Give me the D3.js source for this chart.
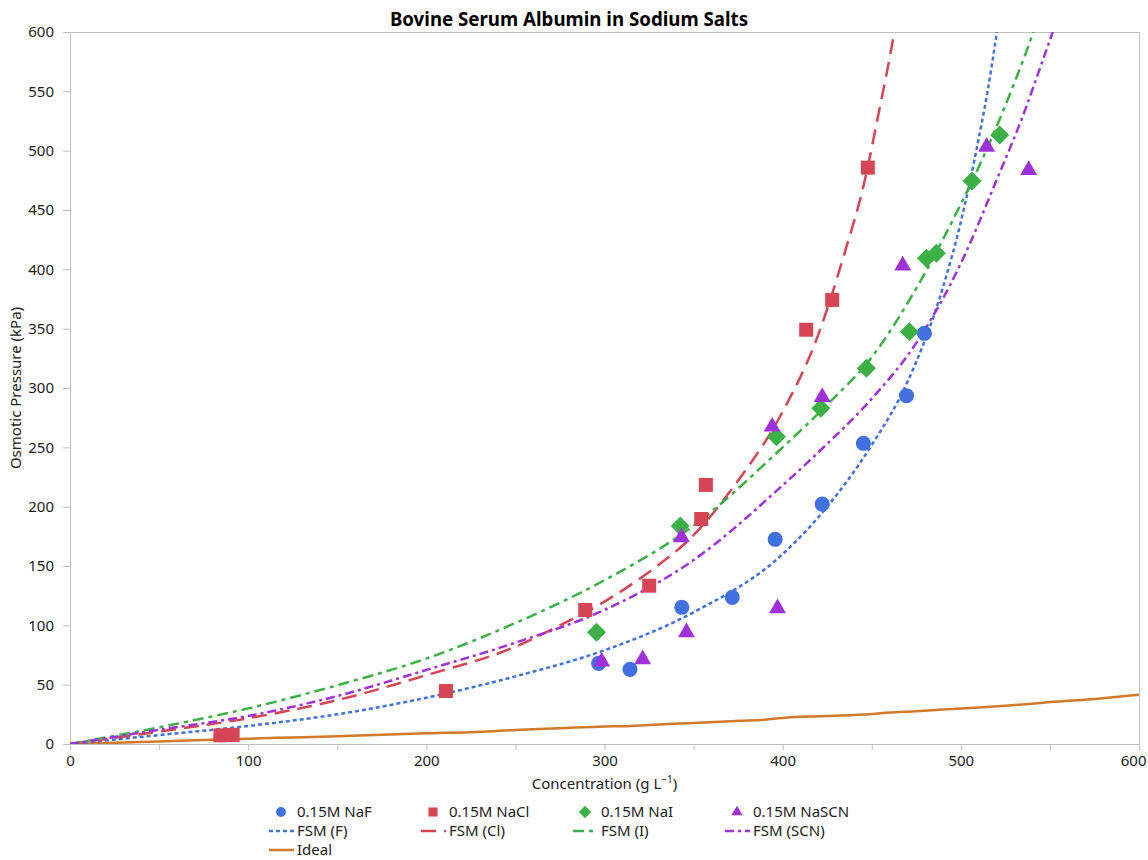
<!DOCTYPE html>
<html>
<head>
<meta charset="utf-8">
<script src="https://cdn.jsdelivr.net/npm/d3@7"></script>
<style>
  body { margin: 0; background: #fff; font-family: "Noto Sans", sans-serif; }
  .axis text { font-size: 15px; fill: #222; font-family: "Noto Sans", sans-serif; }
  .axis line, .axis path { stroke: #bfbfbf; }
  .legend text { font-size: 15px; fill: #222; }
</style>
</head>
<body>
<div id="chart"></div>
<script>
// measured points (g/L, kPa)
const nafConc = [296.7, 314.3, 343.4, 371.7, 395.8, 422.2, 445.3, 469.5, 479.6];
const nafKpa  = [68, 62.9, 115.2, 123.6, 172.5, 202.2, 253.4, 293.5, 346.1];

const naclConc = [84.4, 91.3, 211, 289.2, 325.1, 354.3, 356.9, 413.2, 427.8, 447.8];
const naclKpa  = [7.3, 7.6, 44.7, 112.9, 133.4, 189.6, 218.3, 349.1, 374.2, 485.7];

const naiConc = [295.5, 342.5, 396.5, 421.4, 447, 471.1, 480.7, 486.3, 506.3, 521.8];
const naiKpa  = [94.1, 183.7, 259, 282.9, 316.6, 347.5, 409.3, 413.5, 474.4, 513.2];

const nascnConc = [298.4, 321.4, 343.2, 346, 394.1, 397.1, 422.2, 467.4, 514.5, 538.1];
const nascnKpa  = [69.4, 71.4, 174.2, 94.1, 267.4, 114.3, 292.4, 403.1, 503.3, 483.7];

// model curves
const fsmFConc = [0, 50, 100, 150, 200, 250, 300, 350, 400, 425, 450, 470, 490, 500, 510, 515, 520, 522];
const fsmFKpa  = [0, 7.5, 15.2, 25, 39, 57, 79, 111, 160, 200, 252, 305, 385, 440, 510, 550, 598, 620];

const fsmClConc = [0, 50, 100, 150, 200, 250, 275, 300, 325, 350, 375, 400, 420, 435, 445, 455, 460, 465];
const fsmClKpa  = [0, 10.5, 21.7, 37, 58, 82, 100, 120, 145, 176, 222, 280, 345, 415, 468, 540, 578, 620];

const fsmIConc = [0, 50, 100, 150, 200, 250, 300, 350, 400, 425, 450, 475, 500, 510, 520, 530, 540, 545];
const fsmIKpa  = [0, 14, 30, 49.5, 72, 102, 138, 184, 250, 286, 326, 384, 455, 486, 520, 557, 597, 620];

const fsmSCNConc = [0, 50, 100, 150, 200, 250, 300, 350, 400, 425, 450, 475, 500, 520, 535, 545, 552, 556];
const fsmSCNKpa  = [0, 12, 23.6, 40.4, 62.4, 85.4, 113, 155, 218, 253, 291, 338, 405, 475, 530, 572, 602, 620];

const idealConc = [0, 25, 50, 75, 100, 125, 150, 175, 200, 225, 250, 275, 300, 310, 325, 350, 375, 390, 400, 425, 450, 460, 475, 500, 510, 525, 540, 550, 575, 600];
const idealKpa  = [0, 1, 2.2, 3.3, 4.5, 5.5, 6.5, 7.8, 9, 10, 11.8, 13.3, 14.8, 15, 16, 17.8, 19.5, 20.5, 22, 23.5, 25.2, 26.5, 27.6, 30, 30.8, 32.2, 34, 35.3, 38, 41.5];

const xTicks = [0, 50, 100, 150, 200, 250, 300, 350, 400, 450, 500, 550, 600];
const yTicks = [0, 50, 100, 150, 200, 250, 300, 350, 400, 450, 500, 550, 600];

const colors = { F: "#4170e0", Cl: "#d64553", I: "#3bb044", SCN: "#a030dc", ideal: "#d27a2a" };

// canvas
const margin = {top: 32, right: 9, bottom: 116, left: 70},
      width = 1148 - margin.left - margin.right,
      height = 860 - margin.top - margin.bottom;

const svgRoot = d3.select("#chart").append("svg")
    .attr("width", 1148)
    .attr("height", 860);

const svg = svgRoot.append("g")
    .attr("transform", `translate(${margin.left},${margin.top})`);

const x = d3.scaleLinear().domain([0, 600]).range([0, width]);
const y = d3.scaleLinear().domain([0, 600]).range([height, 0]);

// title
svgRoot.append("text")
  .attr("x", 569).attr("y", 26)
  .attr("text-anchor", "middle")
  .style("font-size", "18.7px").style("font-weight", "bold").style("fill", "#000")
  .text("Bovine Serum Albumin in Sodium Salts");

// axes
const xAxis = svg.append("g").attr("class", "axis")
  .attr("transform", `translate(0,${height})`)
  .call(d3.axisBottom(x).tickValues(xTicks).tickSize(6).tickSizeOuter(0).tickPadding(5)
    .tickFormat(d => d % 100 === 0 ? d : ""));
// last label kept inside the page
xAxis.selectAll(".tick text").filter(d => d === 600)
  .attr("text-anchor", "end").attr("dx", "7");

svg.append("g").attr("class", "axis")
  .call(d3.axisLeft(y).tickValues(yTicks).tickSize(7).tickSizeOuter(0).tickPadding(9));

// frame top + right
svg.append("line").attr("x1", 0).attr("x2", width + 0.5).attr("y1", 0.5).attr("y2", 0.5).attr("stroke", "#bfbfbf");
svg.append("line").attr("x1", width + 0.5).attr("x2", width + 0.5).attr("y1", 0).attr("y2", height).attr("stroke", "#bfbfbf");

// axis titles
svgRoot.append("text")
  .attr("x", margin.left + width / 2).attr("y", 789)
  .attr("text-anchor", "middle").style("font-size", "15px").style("fill", "#222")
  .html("Concentration (g L<tspan dy='-6' font-size='10px'>−1</tspan><tspan dy='6'>)</tspan>");

svgRoot.append("text")
  .attr("transform", `translate(21,${margin.top + height / 2}) rotate(-90)`)
  .attr("text-anchor", "middle").style("font-size", "15px").style("fill", "#222")
  .text("Osmotic Pressure (kPa)");

// clip
svgRoot.append("clipPath").attr("id", "plotclip")
  .append("rect").attr("x", 0).attr("y", 0).attr("width", width).attr("height", height);

const plot = svg.append("g").attr("clip-path", "url(#plotclip)");

const line = d3.line().x(d => x(d[0])).y(d => y(d[1])).curve(d3.curveMonotoneX);
const zip = (a, b) => a.map((v, i) => [v, b[i]]);

const curves = [
  {name: "Ideal",     xs: idealConc,  ys: idealKpa,  color: colors.ideal, dash: null,            w: 2.5},
  {name: "FSM (F)",   xs: fsmFConc,   ys: fsmFKpa,   color: colors.F,     dash: "4,3",           w: 2.5},
  {name: "FSM (Cl)",  xs: fsmClConc,  ys: fsmClKpa,  color: colors.Cl,    dash: "15,8",          w: 2.5},
  {name: "FSM (I)",   xs: fsmIConc,   ys: fsmIKpa,   color: colors.I,     dash: "11,5,4,5",      w: 2.5},
  {name: "FSM (SCN)", xs: fsmSCNConc, ys: fsmSCNKpa, color: colors.SCN,   dash: "9,4,3,4",       w: 2.5}
];

curves.forEach(c => {
  plot.append("path")
    .datum(zip(c.xs, c.ys))
    .attr("d", line)
    .attr("fill", "none")
    .attr("stroke", c.color)
    .attr("stroke-width", c.w)
    .attr("stroke-dasharray", c.dash);
});

// markers
const shapes = {
  circle:   {type: d3.symbolCircle,   size: 180, rot: 0},
  square:   {type: d3.symbolSquare,   size: 196, rot: 0},
  diamond:  {type: d3.symbolSquare,   size: 180, rot: 45},
  triangle: {type: d3.symbolTriangle, size: 125, rot: 0}
};

const series = [
  {name: "0.15M NaF",   xs: nafConc,   ys: nafKpa,   color: colors.F,   shape: "circle"},
  {name: "0.15M NaCl",  xs: naclConc,  ys: naclKpa,  color: colors.Cl,  shape: "square"},
  {name: "0.15M NaI",   xs: naiConc,   ys: naiKpa,   color: colors.I,   shape: "diamond"},
  {name: "0.15M NaSCN", xs: nascnConc, ys: nascnKpa, color: colors.SCN, shape: "triangle"}
];

series.forEach(s => {
  const sh = shapes[s.shape];
  plot.append("g").selectAll("path")
    .data(zip(s.xs, s.ys))
    .enter().append("path")
      .attr("d", d3.symbol().type(sh.type).size(sh.size))
      .attr("transform", d => `translate(${x(d[0])},${y(d[1])}) rotate(${sh.rot})`)
      .attr("fill", s.color);
});

// legend
const legendCols = [297, 449, 601, 753];
const legendRows = [812, 831, 850];
const legend = svgRoot.append("g").attr("class", "legend");

series.forEach((s, i) => {
  const sh = shapes[s.shape];
  const g = legend.append("g").attr("transform", `translate(${legendCols[i]},${legendRows[0]})`);
  g.append("path")
    .attr("d", d3.symbol().type(sh.type).size(sh.size * 0.42))
    .attr("transform", `translate(-16,0) rotate(${sh.rot})`)
    .attr("fill", s.color);
  g.append("text").attr("x", 0).attr("y", 5).text(s.name);
});

const legendLines = [curves[1], curves[2], curves[3], curves[4], curves[0]];
legendLines.forEach((c, i) => {
  const col = i % 4, row = 1 + Math.floor(i / 4);
  const g = legend.append("g").attr("transform", `translate(${legendCols[col]},${legendRows[row]})`);
  g.append("line")
    .attr("x1", -28).attr("x2", -3).attr("y1", 0).attr("y2", 0)
    .attr("stroke", c.color).attr("stroke-width", c.w)
    .attr("stroke-dasharray", c.dash);
  g.append("text").attr("x", 0).attr("y", 5).text(c.name);
});
</script>
</body>
</html>
